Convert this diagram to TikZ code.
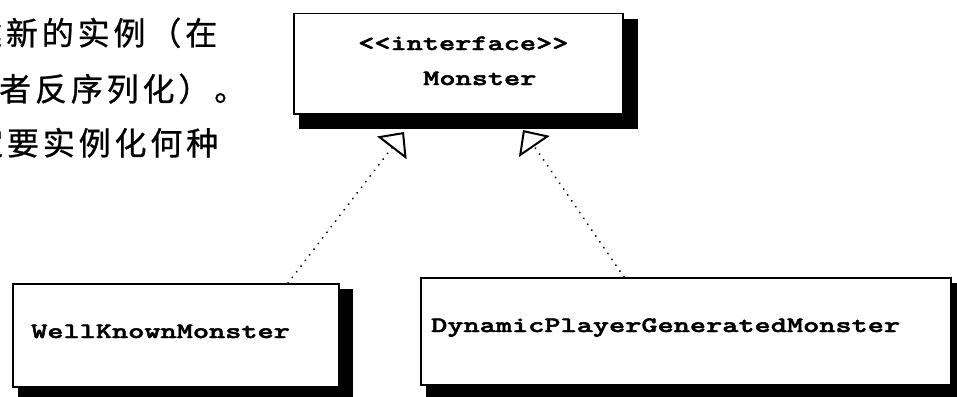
\documentclass[tikz,border=0pt]{standalone}
\usepackage{fontspec}
\usetikzlibrary{arrows.meta}
\newfontfamily\cjk[LetterSpace=12, FakeBold=0.8]{Noto Sans CJK SC}
\newfontfamily\codefont[FakeStretch=1.4, FakeBold=2.2, Extension=.otf]{lmmonolt10-bold}
\begin{document}
\begin{tikzpicture}[x=1pt,y=-1pt,
  boxnode/.style={draw=black, fill=white, line width=1.5pt, rectangle, inner sep=0pt, anchor=north west},
  shadowfill/.style={fill=black},
  code/.style={font=\codefont\fontsize{22}{27}\selectfont, inner sep=0pt, anchor=base west},
  cjktext/.style={font=\cjk\fontsize{32}{38}\selectfont, inner sep=0pt, anchor=base west, text=black},
  realize/.style={line width=2pt, dash pattern=on 0.1pt off 7pt, line cap=round,
     -{Triangle[open,length=20pt,width=37pt,line cap=butt]}}]
\useasboundingbox (0,0) rectangle (957,396);
\clip (0,0) rectangle (957,396);
% Chinese text (cut at the left edge)
\node[cjktext] (l1) at (-30,45) {建新的实例（在};
\node[cjktext] (l2) at (-1,101) {者反序列化）。};
\node[cjktext] (l3) at (-29,155) {定要实例化何种};
% shadows
\fill[shadowfill] (299,19) rectangle (638,129);
\fill[shadowfill] (18,289) rectangle (353,401);
\fill[shadowfill] (426,283) rectangle (965,399);
% boxes
\node[boxnode, minimum width=329pt, minimum height=100pt] (monster) at (293,13) {};
\node[boxnode, minimum width=326pt, minimum height=103pt] (wkm) at (12,283) {};
\node[boxnode, minimum width=530pt, minimum height=107pt] (dpgm) at (420,277) {};
% texts
\node[code] (iface) at (358,50) {<{}<interface>{}>};
\node[code] (mname) at (423,85) {Monster};
\node[code] (wname) at (31,338) {WellKnownMonster};
\node[code] (dname) at (431,332) {DynamicPlayerGeneratedMonster};
% connectors
\coordinate (s1) at (288,283);
\coordinate (t1) at (404,132);
\coordinate (s2) at (624,277);
\coordinate (t2) at (523,130);
\draw[realize] (s1) -- (t1);
\draw[realize] (s2) -- (t2);
\end{tikzpicture}
\end{document}
